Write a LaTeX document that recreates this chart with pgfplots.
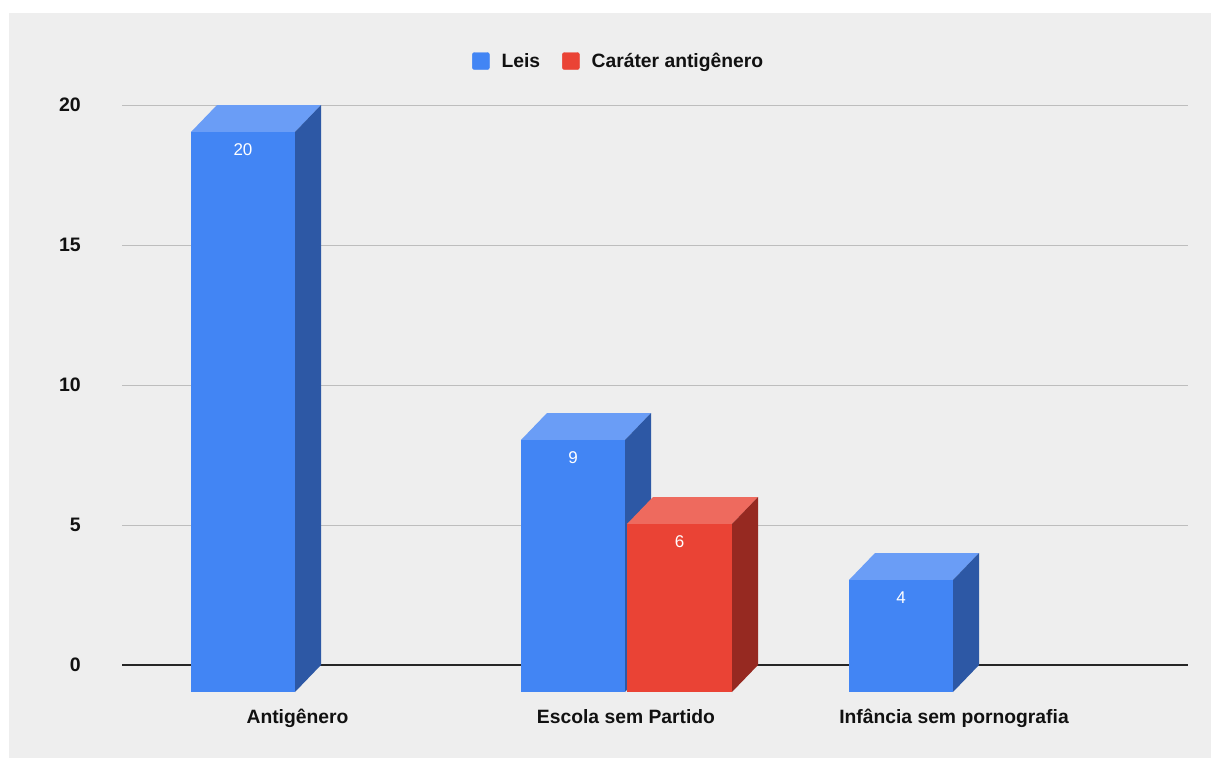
\documentclass[border=0pt]{standalone}
\usepackage{pgfplots}
\pgfplotsset{compat=1.18}
\usepackage{fontspec}
\setmainfont{Liberation Sans}
\definecolor{bg}{HTML}{EEEEEE}
\definecolor{bfront}{HTML}{4285F4}
\definecolor{btop}{HTML}{6A9DF6}
\definecolor{bside}{HTML}{2D58A5}
\definecolor{rfront}{HTML}{EA4335}
\definecolor{rtop}{HTML}{EE6A5E}
\definecolor{rside}{HTML}{962921}
\definecolor{gridc}{HTML}{BDBDBD}
\definecolor{txt}{HTML}{111111}
% 3D bar: #1 left edge of front face (px), #2 width (px), #3 value, #4 front, #5 top, #6 side
\newcommand\barthreed[6]{%
  \pgfmathsetmacro\xa{#1}%
  \pgfmathsetmacro\xb{#1+#2}%
  \pgfmathsetmacro\xc{#1+26}%
  \pgfmathsetmacro\xd{#1+#2+26}%
  \pgfmathsetmacro\yf{#3-0.964}%
  \pgfmathsetmacro\xm{#1+#2/2}%
  \pgfmathsetmacro\yl{#3-0.964-0.62}%
  \addplot[fill=#4, draw=none, forget plot] coordinates {(\xa,-0.964) (\xb,-0.964) (\xb,\yf) (\xa,\yf)};
  \addplot[fill=#5, draw=none, forget plot] coordinates {(\xa,\yf) (\xb,\yf) (\xd,#3) (\xc,#3)};
  \addplot[fill=#6, draw=none, forget plot] coordinates {(\xb,-0.964) (\xd,0) (\xd,#3) (\xb,\yf)};
  \addplot[draw=none, mark=none, forget plot, nodes near coords={#3},
    every node near coord/.style={anchor=center, inner sep=0pt, text=white, font=\fontsize{17}{17}\selectfont}]
    coordinates {(\xm,\yl)};
}
\begin{document}
\begin{tikzpicture}
\useasboundingbox (0,0) rectangle (1211pt,-758pt);
\fill[white] (0,0) rectangle (1211pt,-758pt);
\fill[bg] (9pt,-13pt) rectangle (1211pt,-758pt);
\begin{axis}[
  at={(122pt,-700pt)}, anchor=south west,
  scale only axis, width=1066pt, height=595pt,
  xmin=122, xmax=1188, ymin=-1.25, ymax=20,
  clip=false,
  axis line style={draw=none},
  major tick length=0pt,
  ytick={0,5,10,15,20},
  ymajorgrids,
  grid style={gridc, line width=1pt},
  xtick={297.5,626,954},
  xticklabels={Antigênero,Escola sem Partido,Infância sem pornografia},
  /pgf/number format/assume math mode=true,
  yticklabel style={anchor=east, inner sep=0pt, text=txt, font=\bfseries\fontsize{19.5}{19.5}\selectfont},
  yticklabel shift=41pt,
  xticklabel style={anchor=base, inner sep=0pt, text=txt, yshift=-23pt, font=\bfseries\fontsize{19.3}{19.3}\selectfont},
  legend columns=2,
  legend style={at={(axis cs:472,21.57)}, anchor=west, draw=none, fill=none, inner sep=0pt,
    nodes={inner sep=0pt, text=txt}, font=\bfseries\fontsize{19.3}{19.3}\selectfont,
    /tikz/every odd column/.append style={column sep=12pt},
    /tikz/every even column/.append style={column sep=22pt}},
]
\addplot[black!85, line width=1.4pt, forget plot] coordinates {(122,0) (1188,0)};
\barthreed{191}{104}{20}{bfront}{btop}{bside}
\barthreed{521}{104}{9}{bfront}{btop}{bside}
\barthreed{627}{105}{6}{rfront}{rtop}{rside}
\barthreed{849}{104}{4}{bfront}{btop}{bside}
\addlegendimage{legend image code/.code={\fill[bfront, rounded corners=2pt] (0pt,-8.5pt) rectangle (17pt,8.5pt);}}
\addlegendentry{Leis}
\addlegendimage{legend image code/.code={\fill[rfront, rounded corners=2pt] (0pt,-8.5pt) rectangle (17pt,8.5pt);}}
\addlegendentry{Caráter antigênero}
\end{axis}
\end{tikzpicture}
\end{document}
